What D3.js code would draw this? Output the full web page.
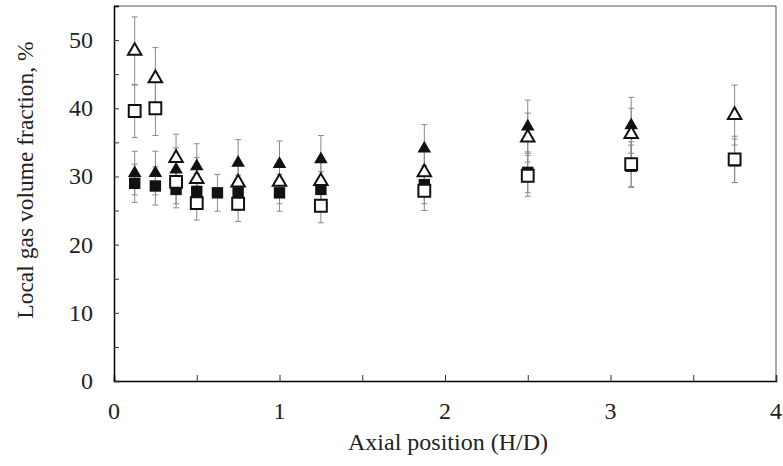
<!DOCTYPE html>
<html>
<head>
<meta charset="utf-8">
<script src="https://cdn.jsdelivr.net/npm/d3@7"></script>
<style>
  body { margin: 0; background: #fff; }
  svg { display: block; font-family: "Liberation Serif", "Times New Roman", serif; }
  .tick-label { font-size: 24px; fill: #222; }
  .axis-title { font-size: 24px; fill: #222; }
</style>
</head>
<body>
<svg width="783" height="466"></svg>
<script>
// axial positions H/D
const xPos = [0.125, 0.25, 0.375, 0.5, 0.625, 0.75, 1.0, 1.25, 1.875, 2.5, 3.125, 3.75];

// filled squares
const fsqY   = [29.0, 28.6, 28.1, 27.8, 27.6, 27.6, 27.6, 28.1, 28.8, 30.6, 31.5, 32.3];
const fsqErr = [2.8, 2.8, 2.7, 2.6, 2.7, 2.6, 2.7, 2.6, 2.8, 3.0, 3.1, 3.2];
// filled triangles
const ftrX   = [0.125, 0.25, 0.375, 0.5, 0.75, 1.0, 1.25, 1.875, 2.5, 3.125];
const ftrY   = [30.5, 30.5, 31.0, 31.5, 32.0, 31.8, 32.5, 34.1, 37.3, 37.5];
const ftrErr = [3.2, 3.2, 3.2, 3.3, 3.4, 3.4, 3.5, 3.5, 3.9, 4.1];
// open triangles
const otrX   = [0.125, 0.25, 0.375, 0.5, 0.75, 1.0, 1.25, 1.875, 2.5, 3.125, 3.75];
const otrY   = [48.4, 44.4, 32.7, 29.6, 29.1, 29.2, 29.3, 30.6, 35.7, 36.2, 39.0];
const otrErr = [5.0, 4.5, 3.5, 3.2, 3.2, 3.2, 3.2, 3.3, 3.6, 3.8, 4.4];
// open squares
const osqX   = [0.125, 0.25, 0.375, 0.5, 0.75, 1.25, 1.875, 2.5, 3.125, 3.75];
const osqY   = [39.6, 40.0, 29.2, 26.1, 26.0, 25.7, 27.9, 30.1, 31.8, 32.5];
const osqErr = [3.9, 4.0, 3.2, 2.5, 2.6, 2.5, 2.9, 3.0, 3.3, 3.4];

const xTicks = [0, 1, 2, 3, 4];
const yTicks = [0, 10, 20, 30, 40, 50];

const svg = d3.select("svg");
const M = { left: 114, right: 776, top: 6, bottom: 381 };

const x = d3.scaleLinear().domain([0, 4]).range([M.left, M.right]);
const y = d3.scaleLinear().domain([0, 55]).range([M.bottom, M.top]);

// frame
svg.append("line").attr("x1", M.left).attr("x2", M.right).attr("y1", M.top).attr("y2", M.top)
  .attr("stroke", "#555").attr("stroke-width", 1);
svg.append("line").attr("x1", M.right).attr("x2", M.right).attr("y1", M.top).attr("y2", M.bottom)
  .attr("stroke", "#555").attr("stroke-width", 1);

// axes with inside ticks
const xAxis = svg.append("g").attr("transform", `translate(0,${M.bottom})`)
  .call(d3.axisBottom(x).tickValues(d3.range(0, 4.01, 0.5)).tickSize(-6).tickFormat(""));
const yAxis = svg.append("g").attr("transform", `translate(${M.left},0)`)
  .call(d3.axisLeft(y).tickValues(d3.range(0, 55.1, 5)).tickSize(-5).tickFormat(""));
[xAxis, yAxis].forEach(g => {
  g.select(".domain").attr("stroke", "#000").attr("stroke-width", 1.5);
  g.selectAll(".tick line").attr("stroke", "#333");
});
yAxis.selectAll(".tick").filter(d => d === 55).remove();

svg.selectAll(".xlab").data(xTicks).join("text")
  .attr("class", "tick-label").attr("text-anchor", "middle")
  .attr("x", d => x(d)).attr("y", 419).text(d => d);
svg.selectAll(".ylab").data(yTicks).join("text")
  .attr("class", "tick-label").attr("text-anchor", "end")
  .attr("x", 93).attr("y", d => y(d) + 8).text(d => d);

svg.append("text").attr("class", "axis-title").attr("text-anchor", "middle")
  .attr("x", 448).attr("y", 450).text("Axial position (H/D)");
svg.append("text").attr("class", "axis-title").attr("text-anchor", "middle")
  .style("font-size", "23.5px")
  .attr("transform", "translate(33,180) rotate(-90)")
  .text("Local gas volume fraction, %");

const series = [
  { xs: xPos, ys: fsqY, errs: fsqErr, shape: d3.symbolSquare, size: 130, fill: "#111", stroke: "none" },
  { xs: ftrX, ys: ftrY, errs: ftrErr, shape: d3.symbolTriangle, size: 80, fill: "#111", stroke: "none" },
  { xs: otrX, ys: otrY, errs: otrErr, shape: d3.symbolTriangle, size: 78, fill: "#fff", stroke: "#111" },
  { xs: osqX, ys: osqY, errs: osqErr, shape: d3.symbolSquare, size: 140, fill: "#fff", stroke: "#111" },
];

// error bars first
series.forEach(s => {
  const pts = s.xs.map((v, i) => ({ x: v, y: s.ys[i], e: s.errs[i] }));
  const g = svg.append("g").attr("stroke", "#8a8a8a").attr("stroke-width", 1);
  g.selectAll(".bar").data(pts).join("line")
    .attr("x1", d => x(d.x)).attr("x2", d => x(d.x))
    .attr("y1", d => y(d.y - d.e)).attr("y2", d => y(d.y + d.e));
  g.selectAll(".capT").data(pts).join("line")
    .attr("x1", d => x(d.x) - 3).attr("x2", d => x(d.x) + 3)
    .attr("y1", d => y(d.y + d.e)).attr("y2", d => y(d.y + d.e));
  g.selectAll(".capB").data(pts).join("line")
    .attr("x1", d => x(d.x) - 3).attr("x2", d => x(d.x) + 3)
    .attr("y1", d => y(d.y - d.e)).attr("y2", d => y(d.y - d.e));
});

// markers
series.forEach(s => {
  const pts = s.xs.map((v, i) => ({ x: v, y: s.ys[i] }));
  svg.append("g").selectAll("path").data(pts).join("path")
    .attr("d", d3.symbol().type(s.shape).size(s.size))
    .attr("transform", d => `translate(${x(d.x)},${y(d.y)})`)
    .attr("fill", s.fill)
    .attr("stroke", s.stroke)
    .attr("stroke-width", 2);
});
</script>
</body>
</html>
